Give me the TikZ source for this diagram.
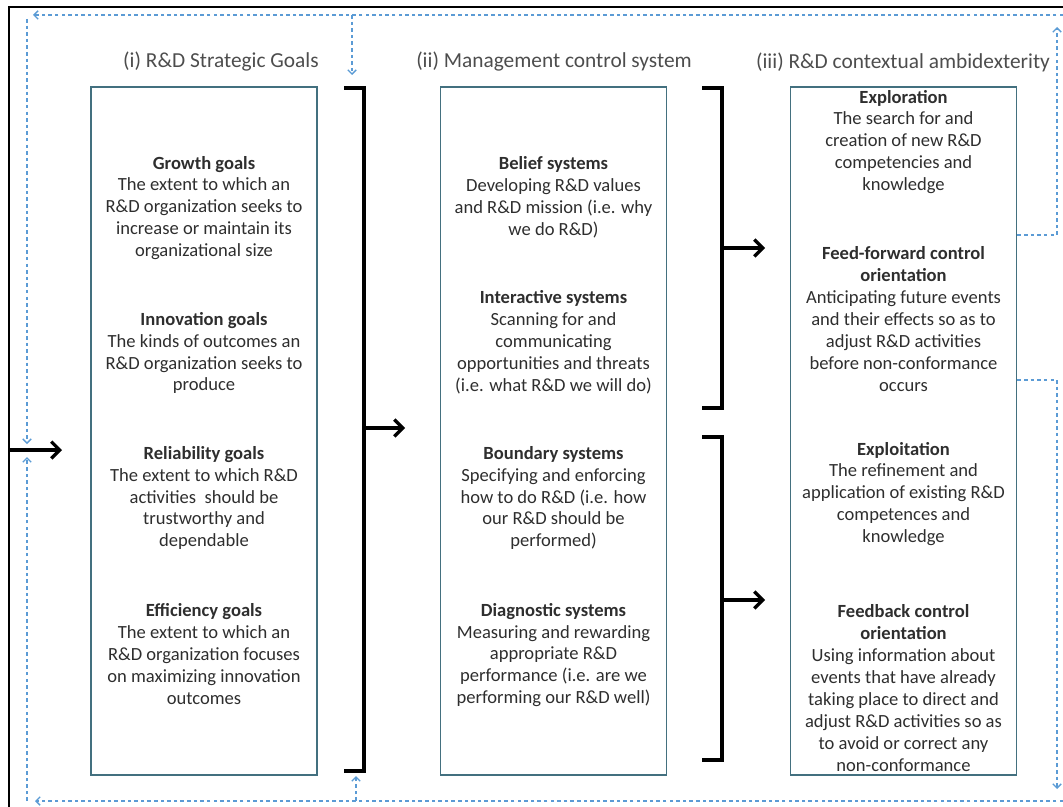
\documentclass[tikz,border=0pt]{standalone}
\usepackage{fontspec}
\setmainfont{Carlito}
\usetikzlibrary{arrows.meta}
\definecolor{boxline}{HTML}{43707F}
\definecolor{loopblue}{HTML}{5B9BD5}
\definecolor{txtgray}{HTML}{2E2E2E}

\begin{document}
\begin{tikzpicture}[x=0.025cm, y=-0.025cm,
    col/.style={draw=boxline, line width=1.3pt, minimum width=5.65cm, minimum height=17.2cm, inner sep=0pt},
    blk/.style={align=center, font=\fontsize{13.2}{15.6}\selectfont, text=txtgray, inner sep=0pt},
    head/.style={font=\fontsize{15.2}{18}\selectfont, text=txtgray!85, inner sep=0pt},
    brk/.style={line width=2.3pt, line join=miter},
    big/.style={-{Straight Barb[length=6pt, width=12pt, line width=2.3pt]}, line width=2.3pt},
    fb/.style={draw=loopblue, line width=0.9pt, dash pattern=on 2.5pt off 2.2pt,
               -{Straight Barb[length=3pt, width=6pt, line width=0.9pt]}}]
    \useasboundingbox (0,0) rectangle (1063,807);
    % outer frame
    \draw[line width=0.9pt] (9,807) -- (9,7) -- (1063,7);

    % column headings
    \node[head] (h1) at (221,62) {(i) R\&D Strategic Goals};
    \node[head] (h2) at (554,62) {(ii) Management control system};
    \node[head] (h3) at (903,62) {(iii) R\&D contextual ambidexterity};

    % the three columns
    \node[col] (goals) at (204,431) {};
    \node[col] (mcs)   at (553.5,431) {};
    \node[col] (amb)   at (903.5,431) {};

    % (i) strategic goals
    \node[blk] (growth) at (204,208) {\textbf{Growth goals}\\The extent to which an\\R\&D organization seeks to\\increase or maintain its\\organizational size};
    \node[blk] (innov) at (204,353) {\textbf{Innovation goals}\\The kinds of outcomes an\\R\&D organization seeks to\\produce};
    \node[blk] (reliab) at (204,498) {\textbf{Reliability goals}\\The extent to which R\&D\\activities\ \ should be\\trustworthy and\\dependable};
    \node[blk] (effic) at (204,654) {\textbf{Efficiency goals}\\The extent to which an\\R\&D organization focuses\\on maximizing innovation\\outcomes};

    % (ii) control systems
    \node[blk] (belief) at (553.5,197) {\textbf{Belief systems}\\Developing R\&D values\\and R\&D mission (i.e. why\\we do R\&D)};
    \node[blk] (interact) at (553.5,342) {\textbf{Interactive systems}\\Scanning for and\\communicating\\opportunities and threats\\(i.e. what R\&D we will do)};
    \node[blk] (boundary) at (553.5,498) {\textbf{Boundary systems}\\Specifying and enforcing\\how to do R\&D (i.e. how\\our R\&D should be\\performed)};
    \node[blk] (diagn) at (553.5,655) {\textbf{Diagnostic systems}\\Measuring and rewarding\\appropriate R\&D\\performance (i.e. are we\\performing our R\&D well)};

    % (iii) ambidexterity
    \node[blk] (explor) at (903.5,142) {\textbf{Exploration}\\The search for and\\creation of new R\&D\\competencies and\\knowledge};
    \node[blk] (feedfwd) at (903.5,319) {\textbf{Feed-forward control}\\\textbf{orientation}\\Anticipating future events\\and their effects so as to\\adjust R\&D activities\\before non-conformance\\occurs};
    \node[blk] (exploit) at (903.5,494) {\textbf{Exploitation}\\The refinement and\\application of existing R\&D\\competences and\\knowledge};
    \node[blk] (feedback) at (903.5,688) {\textbf{Feedback control}\\\textbf{orientation}\\Using information about\\events that have already\\taking place to direct and\\adjust R\&D activities so as\\to avoid or correct any\\non-conformance};

    % brackets
    \coordinate (b1t) at (344,88);  \coordinate (b1b) at (344,771);
    \coordinate (b2t) at (702,88);  \coordinate (b2b) at (702,408);
    \coordinate (b3t) at (702,437); \coordinate (b3b) at (702,760);
    \draw[brk] (b1t) -- ++(20,0) |- (b1b);
    \draw[brk] (b2t) -- ++(20,0) |- (b2b);
    \draw[brk] (b3t) -- ++(20,0) |- (b3b);
    \coordinate (b1m) at (364,428); \coordinate (b1e) at (405,428);
    \coordinate (b2m) at (722,248); \coordinate (b2e) at (765,248);
    \coordinate (b3m) at (722,600); \coordinate (b3e) at (765,600);
    \draw[big] (b1m) -- (b1e);
    \draw[big] (b2m) -- (b2e);
    \draw[big] (b3m) -- (b3e);

    % input
    \coordinate (in) at (9,450); \coordinate (ine) at (62,450);
    \draw[big] (in) -- (ine);

    % feedback loops (dashed)
    \coordinate (tr) at (1063,15); \coordinate (tl) at (33,15);
    \coordinate (br) at (1063,801); \coordinate (bl) at (35,801);
    \draw[fb] (tr) -- (tl);
    \draw[fb] (br) -- (bl);
    \draw[fb] (27,19) -- (27,444);
    \draw[fb] (27,801) -- (27,457);
    \draw[fb] (352,15) -- (352,75);
    \draw[fb] (356,801) -- (356,776);
    \draw[fb] (amb.east |- 0,235) -| (1057,27);
    \draw[fb] (amb.east |- 0,380) -| (1057,789);
\end{tikzpicture}
\end{document}
